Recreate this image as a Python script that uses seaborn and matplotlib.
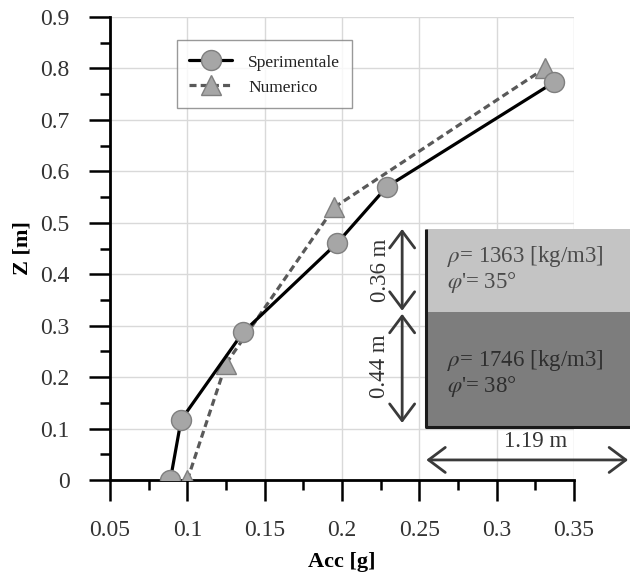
import matplotlib
matplotlib.use("Agg")
import matplotlib.pyplot as plt
import matplotlib.patches as mpatches
from matplotlib.ticker import MultipleLocator, FixedLocator
import seaborn as sns
import pandas as pd

# ---- data ----
exp_acc = [0.089, 0.096, 0.136, 0.197, 0.229, 0.337]
exp_z = [0.0, 0.117, 0.287, 0.461, 0.570, 0.773]
num_acc = [0.100, 0.125, 0.195, 0.331]
num_z = [0.0, 0.226, 0.530, 0.800]
x_ticks = [0.05, 0.1, 0.15, 0.2, 0.25, 0.3, 0.35]
x_tick_labels = ["0.05", "0.1", "0.15", "0.2", "0.25", "0.3", "0.35"]
y_ticks = [0, 0.1, 0.2, 0.3, 0.4, 0.5, 0.6, 0.7, 0.8, 0.9]
y_tick_labels = ["0", "0.1", "0.2", "0.3", "0.4", "0.5", "0.6", "0.7", "0.8", "0.9"]

sns.set_style("white")
plt.rcParams["font.family"] = ["Liberation Serif", "DejaVu Serif"]
plt.rcParams["mathtext.fontset"] = "stix"

fig = plt.figure(figsize=(6.3, 5.73), dpi=100)
ax = fig.add_axes([0.1746, 0.1623, 0.7365, 0.808])

df_exp = pd.DataFrame({"Acc": exp_acc, "Z": exp_z})
df_num = pd.DataFrame({"Acc": num_acc, "Z": num_z})

sns.lineplot(data=df_exp, x="Acc", y="Z", sort=False, estimator=None, ax=ax,
             color="black", lw=2.3, marker="o", ms=14.4, mfc="#a6a6a6",
             mec="#7f7f7f", mew=1.0, label="Sperimentale", zorder=4)
sns.lineplot(data=df_num, x="Acc", y="Z", sort=False, estimator=None, ax=ax,
             color="#595959", lw=2.3, linestyle=(0, (2.2, 1.3)), marker="^",
             ms=15, mfc="#a6a6a6", mec="#7f7f7f", mew=1.0, label="Numerico",
             zorder=3)

ax.set_xlim(0.05, 0.35)
ax.set_ylim(0, 0.9)
ax.xaxis.set_major_locator(FixedLocator(x_ticks))
ax.set_xticklabels(x_tick_labels)
ax.yaxis.set_major_locator(FixedLocator(y_ticks))
ax.set_yticklabels(y_tick_labels)
ax.xaxis.set_minor_locator(MultipleLocator(0.025))
ax.yaxis.set_minor_locator(MultipleLocator(0.05))

ax.grid(True, which="major", color="#d9d9d9", lw=1.0, zorder=0)
ax.set_axisbelow(True)
for s in ["top", "right"]:
    ax.spines[s].set_visible(False)
for s in ["left", "bottom"]:
    ax.spines[s].set_color("black")
    ax.spines[s].set_linewidth(2.0)

ax.tick_params(axis="both", which="both", bottom=True, left=True)
ax.tick_params(axis="both", which="major", direction="out", length=15, width=1.8,
               color="black", labelsize=17, labelcolor="#333333")
ax.tick_params(axis="both", which="minor", direction="out", length=7.5, width=1.8,
               color="black")
ax.tick_params(axis="x", which="major", pad=14)
ax.tick_params(axis="y", which="major", pad=14)

ax.set_xlabel("Acc [g]", fontsize=16, fontweight="bold", color="black")
ax.set_ylabel("Z [m]", fontsize=16, fontweight="bold", color="black")
ax.xaxis.set_label_coords(0.5, -0.155)
ax.yaxis.set_label_coords(-0.167, 0.50)

leg = ax.legend(loc="upper left", bbox_to_anchor=(0.144, 0.950), fontsize=12.5,
                frameon=True, fancybox=False, edgecolor="#808080",
                handlelength=2.5, handleheight=1.2, handletextpad=0.9,
                borderpad=0.7, labelspacing=0.35, borderaxespad=0)
leg.get_frame().set_linewidth(1.0)
for t in leg.get_texts():
    t.set_color("#222222")

# ---- inset: soil layers ----
x0, x1 = 0.2545, 0.386
y_top, y_mid, y_bot = 0.488, 0.3266, 0.103
ax.add_patch(mpatches.Rectangle((x0, y_mid), x1 - x0, y_top - y_mid,
                                facecolor="#c4c4c4", edgecolor="none",
                                clip_on=False, zorder=5))
ax.add_patch(mpatches.Rectangle((x0, y_bot), x1 - x0, y_mid - y_bot,
                                facecolor="#7d7d7d", edgecolor="none",
                                clip_on=False, zorder=5))
ax.plot([x0, x0, x1], [y_top, y_bot, y_bot], color="#1a1a1a", lw=2.2,
        clip_on=False, zorder=6, solid_capstyle="butt")

tcol_top = "#4a4a4a"
tcol_bot = "#2e2e2e"
ax.text(0.268, 0.434, r"$\rho$= 1363 [kg/m3]", fontsize=16.5, color=tcol_top,
        va="center", ha="left", zorder=7, clip_on=False)
ax.text(0.268, 0.383, r"$\varphi$'= 35°", fontsize=16.5, color=tcol_top,
        va="center", ha="left", zorder=7, clip_on=False)
ax.text(0.268, 0.233, r"$\rho$= 1746 [kg/m3]", fontsize=16.5, color=tcol_bot,
        va="center", ha="left", zorder=7, clip_on=False)
ax.text(0.268, 0.181, r"$\varphi$'= 38°", fontsize=16.5, color=tcol_bot,
        va="center", ha="left", zorder=7, clip_on=False)

acol = "#3a3a3a"
aprops = dict(arrowstyle="<->,head_length=0.6,head_width=0.45", lw=2.0,
              color=acol, shrinkA=0, shrinkB=0, mutation_scale=20)
ax.annotate("", xy=(0.2389, y_top), xytext=(0.2389, 0.329),
            arrowprops=aprops, annotation_clip=False, zorder=7)
ax.annotate("", xy=(0.2389, 0.323), xytext=(0.2389, 0.111),
            arrowprops=aprops, annotation_clip=False, zorder=7)
ax.annotate("", xy=(0.2545, 0.039), xytext=(0.385, 0.039),
            arrowprops=aprops, annotation_clip=False, zorder=7)
ax.text(0.2246, 0.408, "0.36 m", rotation=90, fontsize=16.5, color="#333333",
        ha="center", va="center", clip_on=False)
ax.text(0.2240, 0.222, "0.44 m", rotation=90, fontsize=16.5, color="#333333",
        ha="center", va="center", clip_on=False)
ax.text(0.325, 0.074, "1.19 m", fontsize=16.5, color="#333333",
        ha="center", va="center", clip_on=False)

fig.savefig("out.png", dpi=100)
